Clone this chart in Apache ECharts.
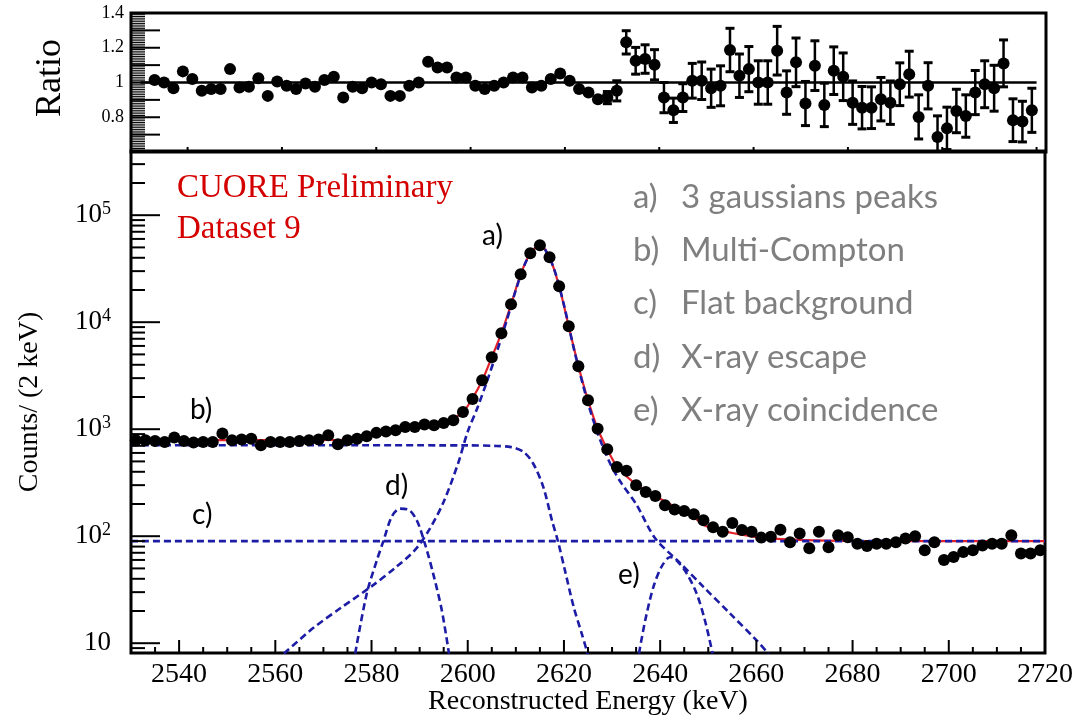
<!DOCTYPE html>
<html><head><meta charset="utf-8">
<script src="https://cdn.jsdelivr.net/npm/echarts@6/dist/echarts.min.js"></script>
<style>html,body{margin:0;padding:0;background:#fff}#c{width:1076px;height:720px}</style>
</head><body><div id="c"></div>
<script>
// ---------- DATA ----------
const energy = [
2531,2533,2535,2537,2539,2541,2543,2545,2547,2549,
2551,2553,2555,2557,2559,2561,2563,2565,2567,2569,
2571,2573,2575,2577,2579,2581,2583,2585,2587,2589,
2591,2593,2595,2597,2599,2601,2603,2605,2607,2609,
2611,2613,2615,2617,2619,2621,2623,2625,2627,2629,
2631,2633,2635,2637,2639,2641,2643,2645,2647,2649,
2651,2653,2655,2657,2659,2661,2663,2665,2667,2669,
2671,2673,2675,2677,2679,2681,2683,2685,2687,2689,
2691,2693,2695,2697,2699,2701,2703,2705,2707,2709,
2711,2713,2715,2717,2719];
const counts = [
789,789,775,761,837,775,750,761,761,912,
789,800,815,709,761,761,761,775,789,800,
879,724,789,815,860,924,950,979,1051,1051,
1106,1090,1145,1214,1445,1920,2870,4710,7900,14700,
28000,44000,52500,40400,21700,9150,3880,1860,1010,650,
444,408,300,259,237,195,178,172,160,141,
121,110,133,114,110,97,99,115,88,106,
77,110,79,102,98,85,81,85,85,88,
95,100,74,88,60,64,71,74,82,85,
85,102,69,69,74];

const ratioEnergy = [
2533,2535,2537,2539,2541,2543,2545,2547,2549,2551,
2553,2555,2557,2559,2561,2563,2565,2567,2569,2571,
2573,2575,2577,2579,2581,2583,2585,2587,2589,2591,
2593,2595,2597,2599,2601,2603,2605,2607,2609,2611,
2613,2615,2617,2619,2621,2623,2625,2627,2629,2631,
2633,2635,2637,2639,2641,2643,2645,2647,2649,2651,
2653,2655,2657,2659,2661,2663,2665,2667,2669,2671,
2673,2675,2677,2679,2681,2683,2685,2687,2689,2691,
2693,2695,2697,2699,2701,2703,2705,2707,2709,2711,
2713,2715,2717,2719];
const ratio = [
1.014,1.0,0.967,1.064,1.02,0.952,0.962,0.962,1.077,0.971,
0.975,1.025,0.923,1.006,0.981,0.962,0.994,0.975,1.014,1.033,
0.913,0.975,0.967,1.0,0.99,0.923,0.923,0.981,1.0,1.12,
1.087,1.087,1.029,1.029,0.981,0.962,0.981,1.0,1.029,1.029,
0.971,0.981,1.02,1.052,1.01,0.962,0.942,0.904,0.913,0.952,
1.231,1.125,1.135,1.102,0.913,0.84,0.913,1.01,1.01,0.967,
0.981,1.187,1.039,1.077,1.0,1.0,1.183,0.942,1.116,0.879,
1.097,0.871,1.068,1.033,0.884,0.855,0.855,0.904,0.884,0.99,
1.048,0.802,0.981,0.686,0.736,0.836,0.807,0.942,0.99,0.967,
1.11,0.783,0.775,0.84];
const ratioErr = [
0,0,0,0,0,0,0,0,0,0,
0,0,0,0,0,0,0,0,0,0,
0,0,0,0,0,0,0,0,0,0,
0,0,0,0,0,0,0,0,0,0,
0,0,0,0,0,0,0,0,0.035,0.058,
0.067,0.077,0.082,0.087,0.087,0.07,0.08,0.1,0.108,0.11,
0.115,0.125,0.125,0.13,0.125,0.125,0.14,0.125,0.14,0.127,
0.143,0.125,0.137,0.137,0.125,0.122,0.12,0.125,0.125,0.123,
0.132,0.127,0.133,0.122,0.122,0.125,0.122,0.127,0.135,0.132,
0.135,0.123,0.117,0.127];

// fit curves: [energy, counts]
const fitTotal = [[2530,790],[2575,795],[2585,960],[2595,1140],[2599,1450],[2601,1950],[2603,2850],[2605,4700],[2607,7900],[2609,14600],[2611,28000],[2613,44000],[2615,52500],[2617,40500],[2619,21700],[2621,9100],[2623,3900],[2625,1870],[2627,1010],[2629,650],[2631,450],[2634.4,320],[2637,265],[2640.7,215],[2644,180],[2646,165],[2649,128],[2652,115],[2656.6,104],[2662,96],[2670,92],[2680,90.5],[2720,90]];
const compPeaks = [[2561.8,8],[2568,14],[2574,22],[2580,34],[2585,51],[2589,74],[2592,115],[2595,210],[2598,480],[2600,950],[2602,1580],[2604,2800],[2606,5200],[2608,10000],[2610,20000],[2612,36000],[2614,49500],[2615,52100],[2616,48500],[2618,31000],[2620,14500],[2622,5800],[2624,2550],[2626,1250],[2628,700],[2630,440],[2632,310],[2635,200],[2639,95],[2644,57],[2649,33.6],[2654.5,19],[2660,10.7],[2662.5,8]];
const compCompton = [[2530,709],[2600,706],[2606,697],[2609,680],[2611.6,614],[2613.6,478],[2615.7,289],[2617.5,141],[2618.8,88],[2620.2,48],[2622,22],[2623.7,12.3],[2625,7.8]];
const compFlat = [[2530,90],[2720,90]];
const compEscape = [[2576.6,8],[2579,29],[2581.1,59.5],[2582.5,91],[2584.2,152],[2585.9,181],[2587.6,178],[2589.4,141],[2591.1,85],[2592.8,45],[2594.6,20.4],[2596.1,8]];
const compCoinc = [[2635.6,8],[2636.9,16.4],[2638.6,33.6],[2640.3,52],[2642.1,64],[2643.4,59.5],[2645.5,45],[2647.6,29],[2649.3,16.4],[2650.9,8]];
const ratioRef = [[2530,1],[2720,1]];

// tick positions (values on the axes)
const xMajorTicks = [2540,2560,2580,2600,2620,2640,2660,2680,2700];
const xMinorTicks = [2535,2545,2550,2555,2565,2570,2575,2585,2590,2595,2605,2610,2615,2625,2630,2635,2645,2650,2655,2665,2670,2675,2685,2690,2695,2705,2710,2715];
const yMajorTicks = [10,100,1000,10000,100000];
const yMinorTicks = [9,20,30,40,50,60,70,80,90,200,300,400,500,600,700,800,900,2000,3000,4000,5000,6000,7000,8000,9000,20000,30000,40000,50000,60000,70000,80000,90000,200000,300000];
const ratioXTicks = [2540,2560,2580,2600,2620,2640,2660,2680,2700,2720];
const ratioYMajorTicks = [0.7,0.8,0.9,1.0,1.1,1.2,1.3];
const ratioYMinorTicks = [
0.61,0.62,0.63,0.64,0.65,0.66,0.67,0.68,0.69,
0.71,0.72,0.73,0.74,0.75,0.76,0.77,0.78,0.79,
0.81,0.82,0.83,0.84,0.85,0.86,0.87,0.88,0.89,
0.91,0.92,0.93,0.94,0.95,0.96,0.97,0.98,0.99,
1.01,1.02,1.03,1.04,1.05,1.06,1.07,1.08,1.09,
1.11,1.12,1.13,1.14,1.15,1.16,1.17,1.18,1.19,
1.21,1.22,1.23,1.24,1.25,1.26,1.27,1.28,1.29,
1.31,1.32,1.33,1.34,1.35,1.36,1.37,1.38,1.39];

const legendKeys = ['a)','b)','c)','d)','e)'];
const legendTexts = ['3 gaussians peaks','Multi-Compton','Flat background','X-ray escape','X-ray coincidence'];
const ratioTickLabels = {8:'0.8',10:'1',12:'1.2',14:'1.4'};

// ---------- CHART ----------
const SERIF = '"Liberation Serif", "Times New Roman", serif';
const SANS = 'Lato, "Open Sans", sans-serif';
const BLUE = '#1c1ca6';
const DASH = [7,4];
const NOLINE = {show:false, onZero:false};
const NOTICK = {show:false};
const NOSPLIT = {show:false};
const RX = {min:2528, max:2722};
const MX = {min:2530, max:2720};
const RY = {min:0.6, max:1.4};
const MY = {min:8.1, max:398000};
const chart = echarts.init(document.getElementById('c'));

function dashed(data) {
  return {type:'line', xAxisIndex:1, yAxisIndex:1, data:data, symbol:'none', smooth:0.3,
    lineStyle:{color:BLUE, width:2.6, type:DASH}, z:3, silent:true};
}
// one custom item (anchored inside the plot) draws a panel's tick marks via api.coord
function tickSeries(ai, anchor, specs) {
  return {type:'custom', xAxisIndex:ai, yAxisIndex:ai, clip:false, z:8, silent:true,
    data:[anchor],
    renderItem:(params, api)=>{
      const children = [];
      specs.forEach(s=>{
        s.values.forEach(v=>{
          const p = api.coord(s.axis==='x' ? [v, s.at] : [s.at, v]);
          children.push({type:'line', silent:true,
            shape:{x1:p[0], y1:p[1], x2:p[0]+s.dx, y2:p[1]+s.dy},
            style:{stroke:'#000', lineWidth:s.w}});
        });
      });
      return {type:'group', children:children};
    }};
}

const graphic = [];
function txt(x,y,text,font,fill,align,rot){
  graphic.push({type:'text', x:x, y:y, rotation:rot||0, z:100,
    style:{text:text, font:font, fill:fill, textAlign:align||'left', textVerticalAlign:'middle'}});
}
txt(51,78,'Ratio','36px '+SERIF,'#000','center',Math.PI/2);
txt(30,402,'Counts/ (2 keV)','28px '+SERIF,'#000','center',Math.PI/2);
txt(588,702,'Reconstructed Energy (keV)','28px '+SERIF,'#000','center');
txt(177,188,'CUORE Preliminary','33px '+SERIF,'#d40000','left');
txt(177,229,'Dataset 9','33px '+SERIF,'#d40000','left');
txt(482,236,'a)','28px '+SANS,'#000','left');
txt(190,410,'b)','28px '+SANS,'#000','left');
txt(192,515,'c)','28px '+SANS,'#000','left');
txt(385,486,'d)','28px '+SANS,'#000','left');
txt(618,575,'e)','28px '+SANS,'#000','left');
legendKeys.forEach((k,i)=>{
  const y = 197 + i*53.3;
  txt(633,y,k,'33px '+SANS,'#7f7f7f','left');
  txt(681,y,legendTexts[i],'33px '+SANS,'#7f7f7f','left');
});

const option = {
  animation:false,
  graphic: graphic,
  grid:[
    {left:131, right:30, top:13, height:139, show:true, borderColor:'#000', borderWidth:3, backgroundColor:'rgba(0,0,0,0)'},
    {left:131, right:30, top:151, bottom:67, show:true, borderColor:'#000', borderWidth:3, backgroundColor:'rgba(0,0,0,0)'}
  ],
  xAxis:[
    Object.assign({gridIndex:0, type:'value', position:'bottom', splitNumber:10,
      axisLine:NOLINE, axisTick:NOTICK, axisLabel:{show:false}, splitLine:NOSPLIT}, RX),
    Object.assign({gridIndex:1, type:'value', position:'bottom', splitNumber:10,
      axisLine:NOLINE, axisTick:NOTICK,
      axisLabel:{show:true, showMinLabel:false, margin:8, fontFamily:SERIF, fontSize:28, color:'#000',
        formatter:(v)=>String(Math.round(v))},
      splitLine:NOSPLIT}, MX)
  ],
  yAxis:[
    Object.assign({gridIndex:0, type:'value', position:'left', interval:0.1,
      axisLine:NOLINE, axisTick:NOTICK,
      axisLabel:{margin:7, fontFamily:SERIF, fontSize:18, color:'#000',
        formatter:(v)=>{const r=Math.round(v*10); return ratioTickLabels[r]||'';}},
      splitLine:NOSPLIT}, RY),
    Object.assign({gridIndex:1, type:'log', logBase:10, position:'left',
      axisLine:NOLINE, axisTick:NOTICK,
      axisLabel:{margin:20, color:'#000',
        formatter:(v)=>{const l=Math.log10(v); const e=Math.round(l); if(Math.abs(l-e)>0.01) return ''; return e===1?'{a|10}':'{a|10}{b|'+e+'}';},
        rich:{a:{fontFamily:SERIF, fontSize:27, lineHeight:30, color:'#000'},
              b:{fontFamily:SERIF, fontSize:18, lineHeight:18, verticalAlign:'top', color:'#000'}}},
      splitLine:NOSPLIT}, MY)
  ],
  series:[
    // ratio panel
    {type:'line', xAxisIndex:0, yAxisIndex:0, data:ratioRef, symbol:'none', lineStyle:{color:'#000', width:2.5}, z:2, silent:true},
    {type:'custom', xAxisIndex:0, yAxisIndex:0, clip:true, z:3, silent:true,
      data: ratioEnergy.map((x,i)=>[x, ratio[i], ratioErr[i]]),
      renderItem:(params, api)=>{
        const x=api.value(0), y=api.value(1), e=api.value(2);
        if(!e) return null;
        const t=api.coord([x,y+e]), b=api.coord([x,y-e]);
        const cw=4.5, st={stroke:'#000', lineWidth:2.5};
        return {type:'group', children:[
          {type:'line', shape:{x1:t[0],y1:t[1],x2:b[0],y2:b[1]}, style:st},
          {type:'line', shape:{x1:t[0]-cw,y1:t[1],x2:t[0]+cw,y2:t[1]}, style:{stroke:'#000', lineWidth:3}},
          {type:'line', shape:{x1:b[0]-cw,y1:b[1],x2:b[0]+cw,y2:b[1]}, style:{stroke:'#000', lineWidth:3}}
        ]};
      }},
    {type:'scatter', xAxisIndex:0, yAxisIndex:0, data: ratioEnergy.map((x,i)=>[x, ratio[i]]),
      symbol:'circle', symbolSize:12, itemStyle:{color:'#000', opacity:1}, z:5, silent:true},
    tickSeries(0, [2620, 1.0], [
      {axis:'x', values:ratioXTicks, at:RY.min, dx:0, dy:-5, w:2},
      {axis:'y', values:ratioYMajorTicks, at:RX.min, dx:29, dy:0, w:2},
      {axis:'y', values:ratioYMinorTicks, at:RX.min, dx:14, dy:0, w:1}
    ]),
    // main panel
    {type:'line', xAxisIndex:1, yAxisIndex:1, data:fitTotal, symbol:'none', smooth:0.3,
      lineStyle:{color:'#e3212b', width:2.2}, z:2, silent:true},
    dashed(compFlat),
    dashed(compCompton),
    dashed(compPeaks),
    dashed(compEscape),
    dashed(compCoinc),
    {type:'scatter', xAxisIndex:1, yAxisIndex:1, data: energy.map((x,i)=>[x, counts[i]]),
      symbol:'circle', symbolSize:12, itemStyle:{color:'#000', opacity:1}, z:6, silent:true},
    tickSeries(1, [2620, 1000], [
      {axis:'x', values:xMajorTicks, at:MY.min, dx:0, dy:-13, w:2},
      {axis:'x', values:xMinorTicks, at:MY.min, dx:0, dy:-6, w:2},
      {axis:'y', values:yMajorTicks, at:MX.min, dx:29, dy:0, w:2},
      {axis:'y', values:yMinorTicks, at:MX.min, dx:14, dy:0, w:2}
    ])
  ]
};
chart.setOption(option);
</script>
</body></html>
